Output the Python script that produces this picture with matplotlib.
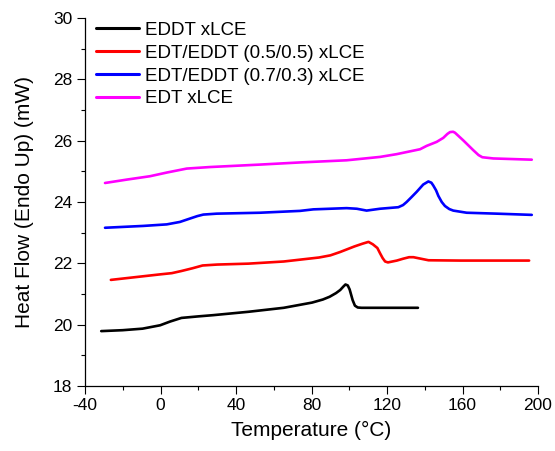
import matplotlib
matplotlib.use("Agg")
import matplotlib.pyplot as plt
from matplotlib.ticker import MultipleLocator

plt.rcParams['font.family'] = ['Liberation Sans', 'DejaVu Sans']
plt.rcParams['axes.unicode_minus'] = False

# ---- data ----
eddt_T = [-31.4, -20.0, -9.5, -0.2, 5.0, 11.1, 20.0, 27.9, 46.6, 65.3, 80.3, 86.0, 89.6, 93.0, 95.2, 97.0, 98.0, 99.2, 100.2, 101.8, 103.0, 104.5, 106.5, 136.4]
eddt_H = [19.79, 19.82, 19.87, 19.98, 20.10, 20.22, 20.27, 20.31, 20.42, 20.55, 20.72, 20.82, 20.91, 21.03, 21.13, 21.25, 21.31, 21.28, 21.15, 20.80, 20.62, 20.56, 20.55, 20.55]

mix55_T = [-26.3, -0.2, 6.0, 11.1, 17.0, 22.3, 30.0, 46.6, 65.3, 84.0, 90.0, 95.2, 102.7, 107.0, 110.2, 112.5, 114.9, 116.3, 117.7, 119.0, 120.5, 125.2, 128.5, 131.7, 134.0, 136.4, 142.0, 158.8, 195.3]
mix55_H = [21.46, 21.64, 21.68, 21.75, 21.84, 21.93, 21.96, 21.99, 22.06, 22.19, 22.26, 22.37, 22.55, 22.64, 22.70, 22.62, 22.50, 22.33, 22.17, 22.06, 22.03, 22.09, 22.15, 22.20, 22.20, 22.17, 22.10, 22.09, 22.09]

mix73_T = [-29.4, -9.1, 3.3, 10.3, 15.6, 19.5, 22.7, 29.8, 52.7, 73.9, 81.0, 98.6, 104.0, 109.2, 116.3, 126.0, 128.5, 130.4, 133.0, 135.7, 139.2, 141.9, 143.5, 144.5, 146.0, 147.2, 149.0, 150.7, 153.0, 155.1, 162.2, 178.1, 196.7]
mix73_H = [23.16, 23.22, 23.27, 23.35, 23.46, 23.54, 23.59, 23.62, 23.65, 23.71, 23.76, 23.80, 23.78, 23.72, 23.78, 23.83, 23.90, 24.00, 24.16, 24.33, 24.57, 24.67, 24.63, 24.54, 24.38, 24.20, 24.00, 23.87, 23.77, 23.72, 23.65, 23.62, 23.58]

edt_T = [-29.4, -17.9, -5.6, 3.3, 13.9, 26.2, 52.7, 73.9, 98.6, 116.3, 125.1, 137.5, 141.0, 146.3, 149.8, 152.0, 153.4, 155.0, 156.0, 160.4, 165.7, 168.5, 170.5, 176.3, 196.7]
edt_H = [24.62, 24.73, 24.84, 24.96, 25.09, 25.14, 25.22, 25.29, 25.36, 25.47, 25.56, 25.72, 25.83, 25.96, 26.09, 26.22, 26.28, 26.29, 26.26, 26.01, 25.69, 25.53, 25.46, 25.42, 25.38]

labels = ["EDDT xLCE", "EDT/EDDT (0.5/0.5) xLCE", "EDT/EDDT (0.7/0.3) xLCE", "EDT xLCE"]
colors = ["#000000", "#ff0000", "#0000ff", "#ff00ff"]

fig = plt.figure(figsize=(5.55, 4.51), dpi=100)
ax = fig.add_axes([85/555, 1-386/451, (538-85)/555, (386-18)/451])

series = [(eddt_T, eddt_H), (mix55_T, mix55_H), (mix73_T, mix73_H), (edt_T, edt_H)]
for (t, h), lab, c in zip(series, labels, colors):
    ax.plot(t, h, color=c, lw=1.9, label=lab, solid_joinstyle='round', solid_capstyle='round')

ax.set_xlim(-40, 200)
ax.set_ylim(18, 30)
ax.xaxis.set_major_locator(MultipleLocator(40))
ax.xaxis.set_minor_locator(MultipleLocator(20))
ax.yaxis.set_major_locator(MultipleLocator(2))
ax.yaxis.set_minor_locator(MultipleLocator(1))

for s in ['top', 'right']:
    ax.spines[s].set_visible(False)
for s in ['left', 'bottom']:
    ax.spines[s].set_linewidth(0.9)

ax.tick_params(which='major', direction='out', length=5.5, width=0.8, labelsize=12.5, pad=3.5)
ax.tick_params(which='minor', direction='out', length=3, width=0.8)

ax.set_xlabel("Temperature (°C)", fontsize=15, labelpad=5)
ax.set_ylabel("Heat Flow (Endo Up) (mW)", fontsize=15, labelpad=14)

leg = ax.legend(loc='upper left', bbox_to_anchor=(-0.005, 1.025), frameon=False, fontsize=13.5,
                handlelength=2.3, handletextpad=0.3, labelspacing=0.3, borderaxespad=0.3)
for line in leg.get_lines():
    line.set_linewidth(2.2)

fig.savefig("out.png", dpi=100)
